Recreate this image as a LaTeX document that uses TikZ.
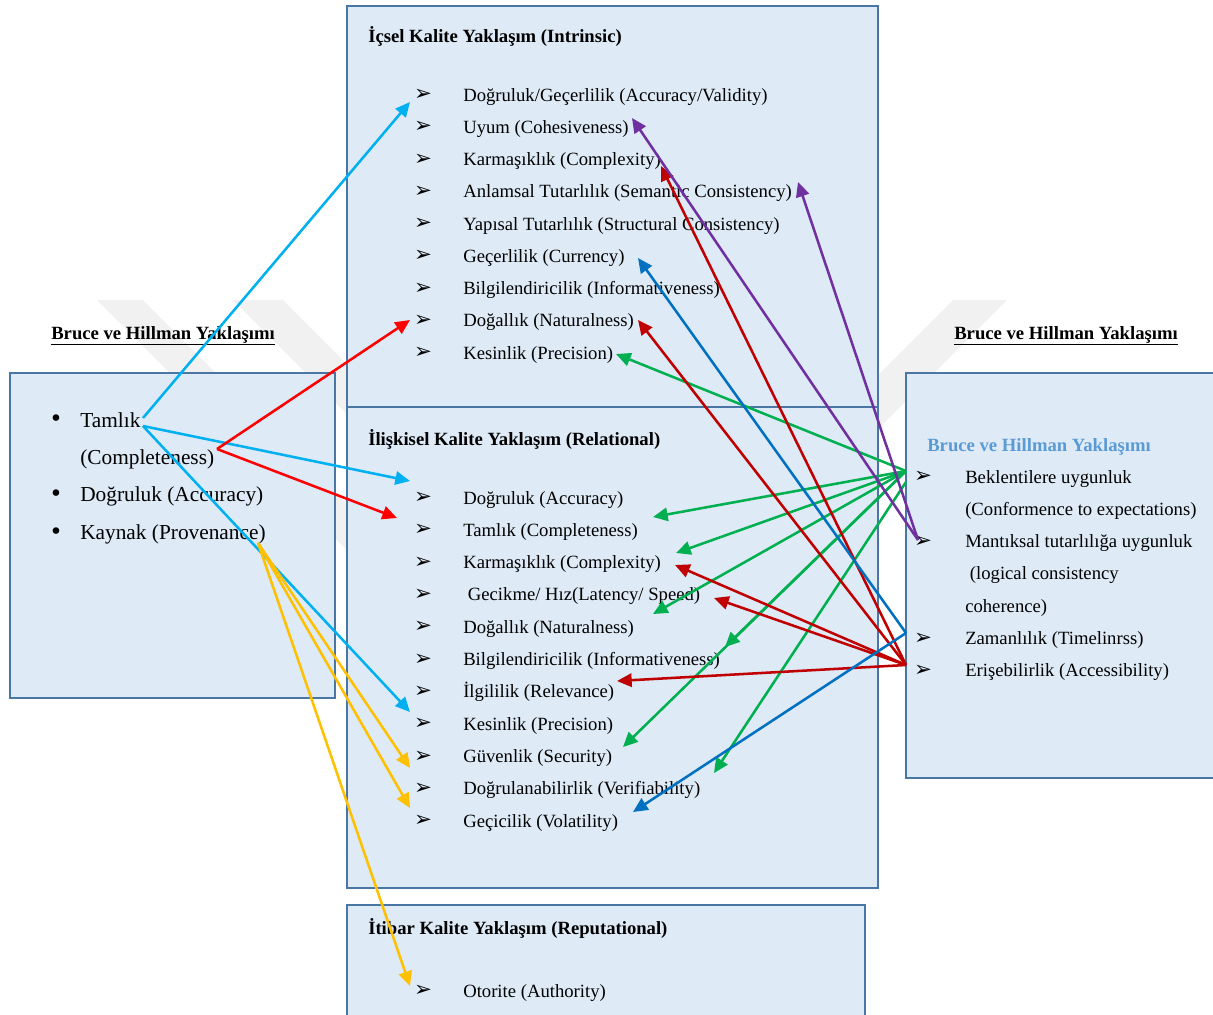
\documentclass[tikz,border=0pt]{standalone}
\usepackage{fontspec}
\setmainfont{Liberation Serif}
\newfontfamily\dejavu{DejaVu Sans}
\usetikzlibrary{arrows.meta}

\definecolor{boxfill}{HTML}{DEEAF6}
\definecolor{boxline}{HTML}{4A76A6}
\definecolor{headblue}{HTML}{5B9BD5}
\definecolor{wmgray}{HTML}{F1F1F1}
\definecolor{acyan}{HTML}{00B0F0}
\definecolor{ared}{HTML}{FF0000}
\definecolor{ayellow}{HTML}{FFC000}
\definecolor{agreen}{HTML}{00B050}
\definecolor{adarkred}{HTML}{C00000}
\definecolor{ablue}{HTML}{0070C0}
\definecolor{apurple}{HTML}{7030A0}

\tikzset{
  panel/.style={draw=boxline, fill=boxfill, line width=1.5pt},
  head/.style={anchor=base west, inner sep=0pt, font=\fontsize{14}{16}\selectfont\bfseries},
  item/.style={anchor=base west, inner sep=0pt, font=\fontsize{14}{16}\selectfont},
  bigitem/.style={anchor=base west, inner sep=0pt, font=\fontsize{16}{19}\selectfont},
  tick/.style={inner sep=0pt, font=\dejavu\fontsize{16}{18}\selectfont},
  dot/.style={inner sep=0pt, font=\dejavu\fontsize{17}{19}\selectfont},
  arr/.style={line width=1.9pt, -{Triangle[length=11pt,width=10pt]}},
}

\begin{document}
\begin{tikzpicture}[x=0.75pt, y=-0.75pt]
  \useasboundingbox (0,0) rectangle (1213,1014);

  \fill[wmgray] (97,300) -- (143,300) -- (543,700) -- (497,700) -- cycle;
  \fill[wmgray] (233,300) -- (283,300) -- (683,700) -- (633,700) -- cycle;
  \fill[wmgray] (1007,300) -- (953,300) -- (553,700) -- (607,700) -- cycle;

  \draw[panel] (10,373) rectangle (335,698);
  \draw[panel] (347,6) rectangle (878,407);
  \draw[panel] (347,407) rectangle (878,888);
  \draw[panel] (347,905) rectangle (865,1030);
  \draw[panel] (906,373) rectangle (1225,778);

  \node[head] (lefthead) at (51,339) {\underline{Bruce ve Hillman Yaklaşımı}};
  \node[head] (righthead) at (954,339) {\underline{Bruce ve Hillman Yaklaşımı}};
  \node[head] (intrhead) at (368,42) {İçsel Kalite Yaklaşım (Intrinsic)};
  \node[head] (relhead) at (368,445) {İlişkisel Kalite Yaklaşım (Relational)};
  \node[head] (rephead) at (368,934) {İtibar Kalite Yaklaşım (Reputational)};
  \node[head, text=headblue] (rbhead) at (927,451) {Bruce ve Hillman Yaklaşımı};

  \foreach \t [count=\i] in {Tamlık, (Completeness), Doğruluk (Accuracy), Kaynak (Provenance)}
    \node[bigitem] (lb\i) at (80,{427+37.4*(\i-1)}) {\t};
  \foreach \i in {1,3,4}
    \node[dot] (ldot\i) at (56,{421+37.4*(\i-1)}) {•};

  \foreach \t [count=\i] in {Doğruluk/Geçerlilik (Accuracy/Validity), Uyum (Cohesiveness),
      Karmaşıklık (Complexity), Anlamsal Tutarlılık (Semantic Consistency),
      Yapısal Tutarlılık (Structural Consistency), Geçerlilik (Currency),
      Bilgilendiricilik (Informativeness), Doğallık (Naturalness), Kesinlik (Precision)} {
    \node[item] (in\i) at (463,{101+32.25*(\i-1)}) {\t};
    \node[tick] (itk\i) at (423,{95+32.25*(\i-1)}) {➢};
  }

  \foreach \t [count=\i] in {Doğruluk (Accuracy), Tamlık (Completeness), Karmaşıklık (Complexity),
      {\ Gecikme/ Hız(Latency/ Speed)}, Doğallık (Naturalness), Bilgilendiricilik (Informativeness),
      İlgililik (Relevance), Kesinlik (Precision), Güvenlik (Security),
      Doğrulanabilirlik (Verifiability), Geçicilik (Volatility)} {
    \node[item] (re\i) at (463,{504+32.3*(\i-1)}) {\t};
    \node[tick] (rtk\i) at (423,{498+32.3*(\i-1)}) {➢};
  }

  \node[item] (rp1) at (463,997) {Otorite (Authority)};
  \node[tick] (ptk1) at (423,991) {➢};

  \foreach \t [count=\i] in {Beklentilere uygunluk, (Conformence to expectations),
      Mantıksal tutarlılığa uygunluk, {\ (logical consistency}, coherence),
      Zamanlılık (Timelinrss), Erişebilirlik (Accessibility)}
    \node[item] (bh\i) at (965,{483+32.3*(\i-1)}) {\t};
  \foreach \i in {1,3,6,7}
    \node[tick] (btk\i) at (923,{477+32.3*(\i-1)}) {➢};

  \coordinate (tamA) at (143,418);
  \coordinate (tamB) at (143,426);
  \coordinate (tamC) at (217,449);
  \coordinate (kayA) at (258,543);
  \coordinate (bekA) at (906,471);
  \coordinate (bekB) at (906,482);
  \coordinate (manA) at (918,540);
  \coordinate (zamA) at (906,633);
  \coordinate (eriA) at (906,665);

  \foreach \n/\x/\y in {c1/410/102, c2/410/481, c3/410/712, r1/410/320, r2/397/518,
      y1/410/768, y2/410/808, y3/410/986,
      g1/616/354, g2/653/517, g3/676/553, g4/653/614, g5/725/647, g6/623/747, g7/714/773,
      d1/661/166, d2/638/320, d3/675/565, d4/714/598, d5/617/681,
      b1/638/258, b2/633/812, p1/632/118, p2/798/182}
    \coordinate (\n) at (\x,\y);

  \foreach \s/\e/\c in {tamA/c1/acyan, tamB/c2/acyan, tamB/c3/acyan,
      tamC/r1/ared, tamC/r2/ared,
      kayA/y1/ayellow, kayA/y2/ayellow, kayA/y3/ayellow,
      bekA/g1/agreen, bekA/g2/agreen, bekA/g3/agreen, bekA/g4/agreen,
      bekA/g5/agreen, bekA/g6/agreen, bekB/g7/agreen,
      eriA/d1/adarkred, eriA/d2/adarkred, eriA/d3/adarkred, eriA/d4/adarkred, eriA/d5/adarkred,
      zamA/b1/ablue, zamA/b2/ablue, manA/p1/apurple, manA/p2/apurple}
    \draw[arr, color=\c] (\s) -- (\e);
\end{tikzpicture}
\end{document}
